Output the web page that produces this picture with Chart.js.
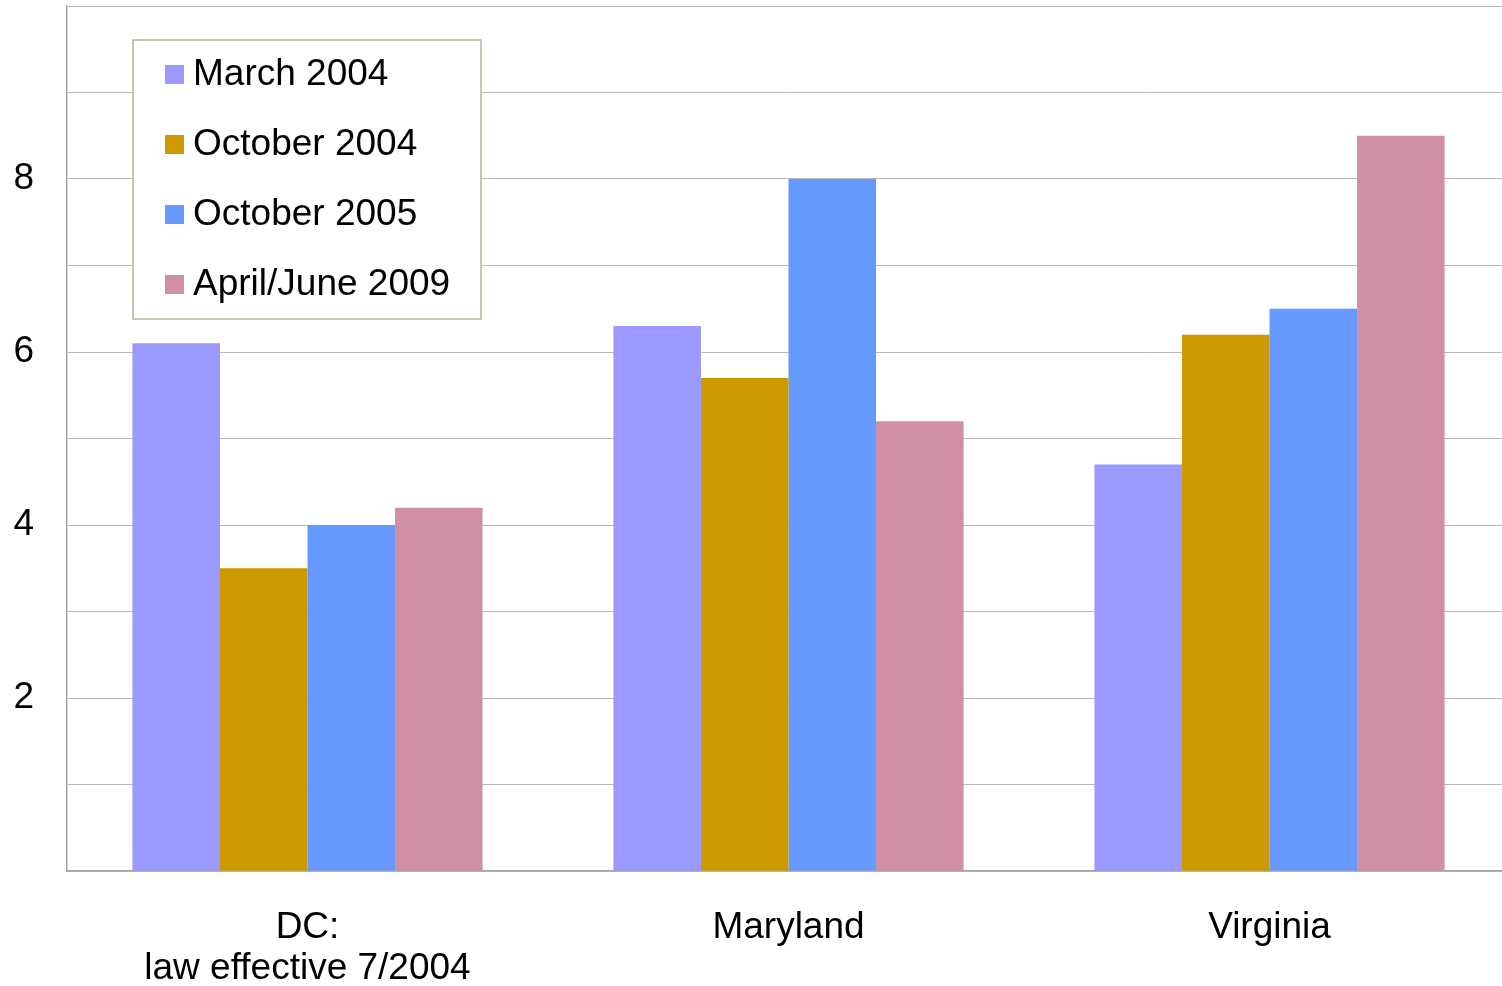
<!DOCTYPE html>
<html>
<head>
<meta charset="utf-8">
<script src="https://cdn.jsdelivr.net/npm/chart.js@4/dist/chart.umd.min.js"></script>
<style>
  html, body { margin: 0; padding: 0; background: #fff; overflow: hidden; }
  #wrap { width: 1512px; height: 986px; }
</style>
</head>
<body>
<div id="wrap"><canvas id="myChart" width="1512" height="986"></canvas></div>
<script>
// data
const categories = [['DC:', 'law effective 7/2004'], 'Maryland', 'Virginia'];
const seriesNames = ['March 2004', 'October 2004', 'October 2005', 'April/June 2009'];
const march2004 = [6.1, 6.3, 4.7];
const october2004 = [3.5, 5.7, 6.2];
const october2005 = [4.0, 8.0, 6.5];
const aprilJune2009 = [4.2, 5.2, 8.5];
const seriesColors = ['#9999FF', '#CC9900', '#6699FF', '#CF90A6'];
const yLabels = [2, 4, 6, 8];

const font = "'Liberation Sans', Arial, sans-serif";

// legend drawn inside the plot area, like the original
const boxLegend = {
    id: 'boxLegend',
    afterDraw(chart) {
        const ctx = chart.ctx;
        ctx.save();
        ctx.fillStyle = '#fff';
        ctx.fillRect(133, 40, 348, 279);
        ctx.strokeStyle = '#A9BB95';
        ctx.lineWidth = 1.5;
        ctx.strokeRect(133, 40, 348, 279);
        ctx.font = '37px ' + font;
        ctx.textBaseline = 'middle';
        chart.data.datasets.forEach(function(ds, i) {
            let y = 75 + i * 70;
            ctx.fillStyle = ds.backgroundColor;
            ctx.fillRect(165, y - 10, 19, 19);
            ctx.fillStyle = '#000';
            ctx.fillText(ds.label, 193, y);
        });
        ctx.restore();
    }
};

let ctx = document.getElementById('myChart').getContext('2d');

let myChart = new Chart(ctx, {
    type: 'bar',
    data: {
        labels: categories,
        datasets: [march2004, october2004, october2005, aprilJune2009].map(function(vals, i) {
            return {
                label: seriesNames[i],
                data: vals,
                backgroundColor: seriesColors[i],
                borderWidth: 0,
                barPercentage: 1.0,
                categoryPercentage: 0.728
            };
        })
    },
    plugins: [boxLegend],
    options: {
        responsive: false,
        animation: false,
        layout: { padding: { top: 6, right: 2, left: 0, bottom: 0 } },
        plugins: {
            legend: { display: false },
            tooltip: { enabled: false }
        },
        scales: {
            x: {
                grid: { display: false, drawTicks: false },
                border: { color: '#a6a6a6', width: 1.5 },
                ticks: {
                    color: '#000',
                    font: { family: font, size: 37, lineHeight: 1.12 },
                    padding: 36,
                    maxRotation: 0
                },
                afterFit(scale) {
                    scale.height = 115;
                    scale.paddingLeft = 0;
                    scale.paddingRight = 0;
                }
            },
            y: {
                min: 0,
                max: 10,
                grid: { color: '#b8b8b8', lineWidth: 1, drawTicks: false },
                border: { color: '#a6a6a6', width: 1.5 },
                ticks: {
                    stepSize: 1,
                    color: '#000',
                    font: { family: font, size: 37 },
                    padding: 33,
                    callback: function(v) { return yLabels.includes(v) ? String(v) : ''; }
                },
                afterFit(scale) {
                    scale.width = 67;
                    scale.paddingTop = 0;
                    scale.paddingBottom = 0;
                }
            }
        }
    }
});
</script>
</body>
</html>
